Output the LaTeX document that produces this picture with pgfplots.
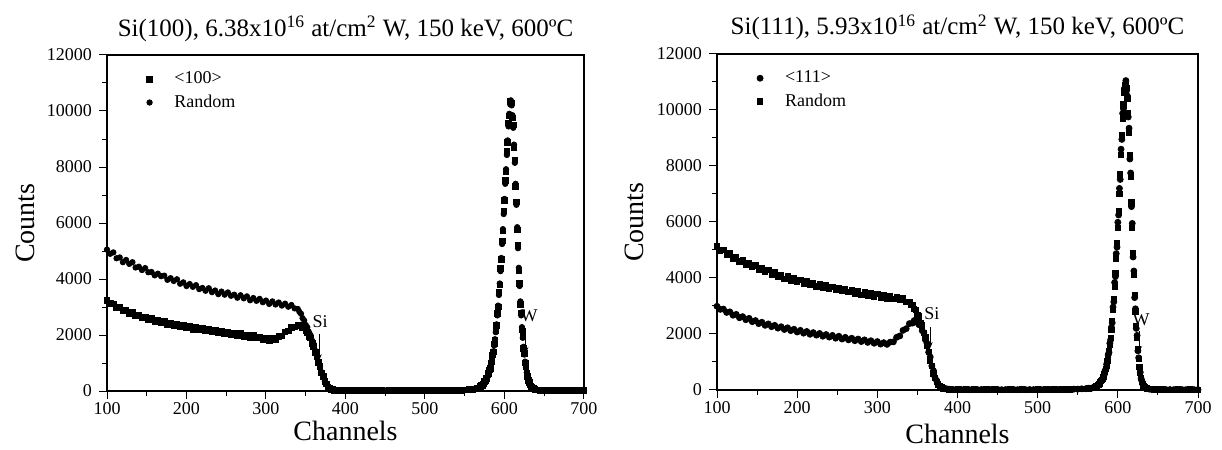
\documentclass[border=0pt]{standalone}
\usepackage{fontspec}
\setmainfont{Liberation Serif}
\usepackage{pgfplots}
\usepackage{pgfplotstable}
\pgfplotsset{compat=1.18}
\usetikzlibrary{arrows.meta}

% Si(100): channelled <100> and random spectra
\pgfplotstableread{
x y
100 3230
104 3120
108 3110
112 2980
116 2990
120 2860
124 2890
128 2770
132 2800
136 2680
140 2720
144 2610
148 2650
152 2550
156 2590
160 2480
164 2530
168 2440
172 2480
176 2380
180 2430
184 2340
188 2380
192 2290
196 2340
200 2250
204 2300
208 2210
212 2270
216 2180
220 2230
224 2150
228 2210
232 2120
236 2170
240 2080
244 2140
248 2050
252 2110
256 2020
260 2080
264 1990
268 2050
272 1960
276 2010
280 1920
284 1980
288 1890
292 1930
296 1840
300 1890
304 1810
308 1870
312 1850
316 1940
320 1970
324 2110
328 2150
332 2280
336 2290
340 2360
342 2320
344 2350
346 2270
348 2260
350 2150
352 2100
354 1960
356 1890
358 1710
360 1590
362 1380
364 1240
366 1020
368 870
370 650
372 520
374 340
376 250
378 140
380 100
382 58
384 48
386 32
388 30
390 20
395 15
400 20
405 16
410 11
415 19
420 14
425 21
430 12
435 17
440 15
445 22
450 10
455 16
460 19
465 13
470 21
475 11
480 17
485 14
490 20
495 12
500 18
505 15
510 22
515 13
520 19
525 16
530 24
535 21
540 30
545 29
550 41
555 48
560 58
564 80
566 85
567 110
568 115
569 150
570 155
571 195
572 205
573 250
574 270
575 335
576 360
577 440
578 470
579 570
580 620
581 750
582 810
583 990
584 1060
585 1290
586 1390
587 1680
588 1810
589 2170
590 2340
591 2780
592 3000
593 3520
594 3790
595 4380
596 4690
597 5360
598 5720
599 6430
600 6800
601 7520
602 7850
603 8560
604 8880
605 9580
606 9830
607 10350
608 10280
609 10290
610 9760
611 9500
612 8700
613 8260
614 7300
615 6760
616 5750
617 5200
618 4300
619 3850
620 3100
621 2790
622 2200
623 1960
624 1530
625 1340
626 1010
627 870
628 630
629 530
630 370
631 310
632 220
633 180
634 120
636 85
638 50
640 42
645 25
650 24
655 16
660 18
665 14
670 19
675 12
680 17
685 13
690 16
695 11
700 15
}\chanA

\pgfplotstableread{
x y
100 5050
104 4900
108 4950
112 4740
116 4770
120 4600
124 4680
128 4540
132 4600
136 4410
140 4440
144 4320
148 4390
152 4240
156 4250
160 4130
164 4190
168 4100
172 4120
176 3970
180 4030
184 3930
188 3990
192 3830
196 3880
200 3750
204 3820
208 3720
212 3780
216 3640
220 3680
224 3580
228 3670
232 3530
236 3590
240 3460
244 3550
248 3440
252 3520
256 3400
260 3440
264 3330
268 3420
272 3310
276 3380
280 3240
284 3320
288 3220
292 3290
296 3170
300 3230
304 3110
308 3200
312 3090
316 3160
320 3050
324 3120
328 3010
332 3070
336 2950
340 2930
342 2830
344 2760
346 2600
348 2520
350 2360
352 2270
354 2100
356 2000
358 1800
360 1670
362 1440
364 1290
366 1060
368 900
370 670
372 540
374 350
376 260
378 150
380 105
382 65
384 55
386 35
388 32
390 22
395 18
400 25
405 12
410 20
415 15
420 22
425 10
430 18
435 14
440 20
445 12
450 16
455 22
460 11
465 17
470 14
475 20
480 13
485 18
490 15
495 22
500 12
505 19
510 16
515 21
520 14
525 23
530 18
535 25
540 28
545 32
550 38
555 45
560 60
564 75
566 90
567 105
568 120
569 140
570 160
571 185
572 210
573 240
574 280
575 320
576 370
577 420
578 480
579 550
580 630
581 720
582 830
583 950
584 1090
585 1240
586 1420
587 1620
588 1850
589 2100
590 2380
591 2700
592 3050
593 3430
594 3840
595 4280
596 4750
597 5250
598 5780
599 6320
600 6860
601 7400
602 7920
603 8430
604 8950
605 9450
606 9900
607 10250
608 10380
609 10200
610 9850
611 9400
612 8800
613 8150
614 7400
615 6650
616 5850
617 5100
618 4400
619 3750
620 3200
621 2700
622 2280
623 1900
624 1580
625 1300
626 1050
627 840
628 660
629 510
630 390
631 300
632 230
633 170
634 125
636 80
638 55
640 40
645 28
650 22
655 18
660 15
665 20
670 13
675 17
680 12
685 16
690 14
695 18
700 12
}\randA

% Si(111): channelled <111> and random spectra
\pgfplotstableread{
x y
100 2990
104 2880
108 2890
112 2770
116 2790
120 2670
124 2700
128 2580
132 2620
136 2510
140 2560
144 2440
148 2480
152 2370
156 2420
160 2310
164 2360
168 2260
172 2310
176 2210
180 2260
184 2160
188 2220
192 2120
196 2170
200 2070
204 2130
208 2030
212 2090
216 1990
220 2050
224 1960
228 2020
232 1920
236 1980
240 1890
244 1950
248 1850
252 1920
256 1820
260 1880
264 1790
268 1850
272 1760
276 1820
280 1730
284 1790
288 1700
292 1760
296 1670
300 1730
304 1640
308 1690
312 1630
316 1710
320 1720
324 1880
328 1930
332 2130
336 2190
340 2370
344 2390
346 2480
348 2430
350 2460
352 2330
354 2310
356 2120
358 2050
360 1790
362 1660
364 1350
366 1180
368 860
370 690
372 440
374 330
376 190
378 145
380 85
382 70
384 46
386 42
388 30
390 26
395 14
400 19
405 15
410 22
415 11
420 17
425 13
430 20
435 12
440 18
445 15
450 21
455 11
460 16
465 14
470 19
475 13
480 22
485 12
490 17
495 15
500 20
505 11
510 16
515 19
520 13
525 18
530 20
535 23
540 21
545 30
550 31
555 43
560 46
564 65
568 70
570 90
571 92
572 115
573 124
574 158
575 168
576 210
577 225
578 282
579 300
580 375
581 400
582 500
583 540
584 680
585 730
586 920
587 990
588 1250
589 1340
590 1670
591 1790
592 2240
593 2400
594 2960
595 3150
596 3840
597 4050
598 4870
599 5100
600 5990
601 6250
602 7200
603 7520
604 8600
605 8950
606 9880
607 10050
608 10750
609 10800
610 11050
611 10700
612 10500
613 9750
614 9350
615 8250
616 7750
617 6550
618 5950
619 4750
620 4250
621 3300
622 2900
623 2200
624 1950
625 1400
626 1150
627 790
628 630
629 410
630 320
631 210
632 170
633 115
634 95
636 52
638 42
640 28
645 26
650 17
655 19
660 15
665 16
670 13
675 18
680 14
685 12
690 17
695 13
700 14
}\chanB

\pgfplotstableread{
x y
100 5130
104 4980
108 5000
112 4830
116 4880
120 4700
124 4760
128 4590
132 4660
136 4480
140 4540
144 4400
148 4450
152 4300
156 4360
160 4210
164 4280
168 4120
172 4200
176 4050
180 4110
184 3970
188 4060
192 3910
196 3990
200 3850
204 3940
208 3800
212 3880
216 3750
220 3830
224 3700
228 3780
232 3650
236 3740
240 3610
244 3690
248 3570
252 3660
256 3530
260 3620
264 3490
268 3580
272 3450
276 3540
280 3410
284 3500
288 3370
292 3460
296 3340
300 3420
304 3300
308 3390
312 3270
316 3350
320 3240
324 3320
328 3210
332 3290
336 3160
340 3150
342 3040
344 3040
346 2890
348 2870
350 2690
352 2630
354 2410
356 2310
358 2040
360 1880
362 1570
364 1360
366 1040
368 850
370 580
372 440
374 280
376 200
378 125
380 95
382 60
384 52
386 38
388 34
390 23
395 16
400 22
405 13
410 19
415 12
420 20
425 15
430 11
435 18
440 14
445 21
450 13
455 17
460 12
465 20
470 15
475 11
480 19
485 14
490 17
495 12
500 21
505 13
510 18
515 15
520 20
525 14
530 22
535 18
540 24
545 27
550 33
555 40
560 48
564 60
568 75
570 85
571 95
572 110
573 128
574 150
575 172
576 200
577 232
578 270
579 312
580 360
581 415
582 480
583 560
584 650
585 760
586 880
587 1030
588 1200
589 1390
590 1600
591 1850
592 2150
593 2480
594 2850
595 3260
596 3700
597 4180
598 4700
599 5250
600 5800
601 6400
602 7000
603 7700
604 8400
605 9100
606 9700
607 10200
608 10600
609 10900
610 11000
611 10800
612 10400
613 9900
614 9200
615 8400
616 7600
617 6700
618 5800
619 4900
620 4100
621 3400
622 2800
623 2300
624 1850
625 1450
626 1100
627 820
628 600
629 430
630 300
631 220
632 160
633 120
634 90
636 55
638 40
640 30
645 24
650 18
655 21
660 14
665 17
670 12
675 19
680 15
685 13
690 18
695 11
700 16
}\randB

\pgfplotsset{
  rbs/.style={
    scale only axis,
    height=168pt,
    xmin=100, xmax=700, ymin=0, ymax=12000,
    xtick={100,200,...,700},
    ytick={0,2000,...,12000},
    minor x tick num=1, minor y tick num=1,
    tick align=outside,
    xtick pos=left, ytick pos=left,
    major tick length=4pt, minor tick length=2.5pt,
    tick style={black, line width=0.5pt},
    axis line style={line width=0.6pt},
    scaled ticks=false,
    /pgf/number format/assume math mode=true,
    /pgf/number format/1000 sep={},
    tick label style={font=\fontsize{9}{10}\selectfont},
    xticklabel style={inner sep=1.5pt},
    xlabel=Channels, ylabel=Counts,
    label style={font=\fontsize{14}{16}\selectfont, inner sep=0pt},
    ylabel style={at={(axis description cs:-0.172,0.5)}, anchor=center},
    title style={font=\fontsize{12.5}{14}\selectfont, at={(0.5,1)}, anchor=base, yshift=3.5pt},
    legend style={draw=none, fill=none, at={(axis description cs:0.07,0.975)},
      anchor=north west, font=\fontsize{9}{10}\selectfont, row sep=0pt, column sep=9pt},
    legend cell align=left,
  },
}
\tikzset{
  note/.style={font=\fontsize{9}{10}\selectfont, inner sep=0pt},
  pointer/.style={-{Stealth[length=3pt,width=2.4pt]}, line width=0.5pt},
}

\begin{document}
\begin{tikzpicture}
\useasboundingbox (0,0) rectangle (611pt,225pt);

\begin{axis}[rbs, width=238.5pt, at={(53.5pt,29.5pt)}, anchor=south west,
  xlabel style={at={(axis description cs:0.5,-0.12)}, anchor=center},
  title={Si(100), 6.38x10\textsuperscript{16} at/cm\textsuperscript{2} W, 150 keV, 600ºC}]
\addplot[only marks, mark=square*, mark size=1.4pt, black] table {\chanA};
\addlegendentry{<100>}
\addplot[only marks, mark=*, mark size=1.35pt, black] table {\randA};
\addlegendentry{Random}
\node[note] at (axis cs:368,2480) {Si};
\draw[pointer] (axis cs:367,2050) -- (axis cs:367,1100);
\node[note] at (axis cs:631,2700) {W};
\draw[pointer] (axis cs:627,2250) -- (axis cs:627,1350);
\end{axis}

\begin{axis}[rbs, width=240.5pt, at={(358.5pt,30pt)}, anchor=south west,
  xlabel style={at={(axis description cs:0.5,-0.13)}, anchor=center},
  title={Si(111), 5.93x10\textsuperscript{16} at/cm\textsuperscript{2} W, 150 keV, 600ºC}]
\addplot[only marks, mark=*, mark size=1.5pt, black] table {\chanB};
\addlegendentry{<111>}
\addplot[only marks, mark=square*, mark size=1.3pt, black] table {\randB};
\addlegendentry{Random}
\node[note] at (axis cs:368,2720) {Si};
\draw[pointer] (axis cs:366,2250) -- (axis cs:366,1500);
\node[note] at (axis cs:629,2500) {W};
\draw[pointer] (axis cs:627,2100) -- (axis cs:627,1350);
\end{axis}
\end{tikzpicture}
\end{document}
